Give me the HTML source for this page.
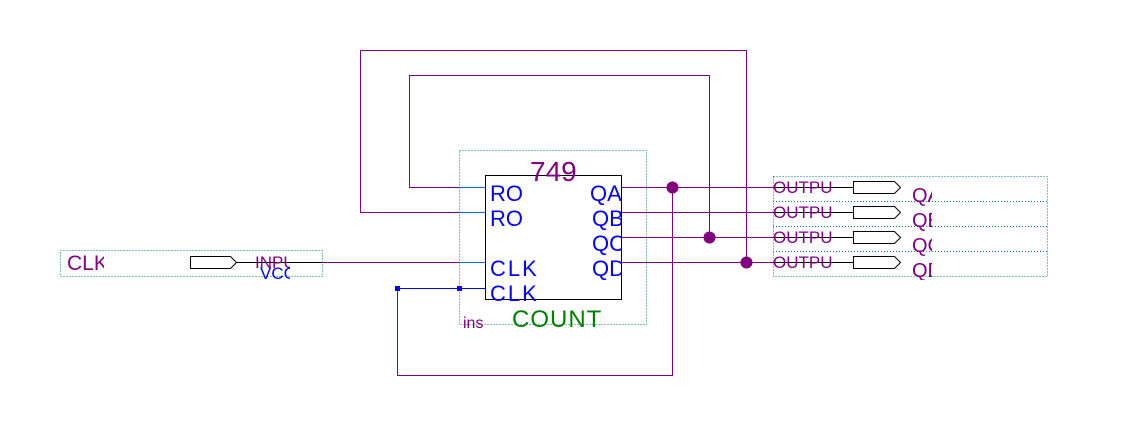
<!DOCTYPE html>
<html><head><meta charset="utf-8"><style>html,body{margin:0;padding:0;background:#fff;}svg{display:block}</style></head>
<body>
<svg width="1144" height="436" viewBox="0 0 1144 436" xmlns="http://www.w3.org/2000/svg" font-family="Liberation Sans, sans-serif">
<defs>
<clipPath id="cA"><rect x="770" y="170" width="62" height="200"/></clipPath>
<clipPath id="cQ"><rect x="905" y="170" width="27" height="110"/></clipPath>
<clipPath id="cL"><rect x="60" y="245" width="44" height="40"/></clipPath>
<clipPath id="cI"><rect x="250" y="245" width="40" height="40"/></clipPath>
</defs>
<g fill="none" stroke-width="1">
<g stroke="#008080" stroke-dasharray="1,2">
<rect x="459.5" y="150.5" width="187" height="174"/>
<rect x="773.5" y="176.5" width="274" height="100"/>
<line x1="773" y1="201.5" x2="1047" y2="201.5"/>
<line x1="773" y1="226.5" x2="1047" y2="226.5"/>
<line x1="773" y1="251.5" x2="1047" y2="251.5"/>
<rect x="60.5" y="250.5" width="262" height="26"/>
</g>
<g stroke="#800080">
<polyline points="459,187.5 409.5,187.5 409.5,75.5 709.5,75.5 709.5,237"/>
<polyline points="459,212.5 360.5,212.5 360.5,50.5 746.5,50.5 746.5,262"/>
<line x1="322" y1="262.5" x2="459" y2="262.5"/>
<polyline points="672.5,187 672.5,375.5 397.5,375.5 397.5,288"/>
<line x1="621" y1="187.5" x2="853" y2="187.5"/>
<line x1="621" y1="212.5" x2="853" y2="212.5"/>
<line x1="621" y1="237.5" x2="853" y2="237.5"/>
<line x1="621" y1="262.5" x2="853" y2="262.5"/>
</g>
<g stroke="#0070ff">
<line x1="459" y1="187.5" x2="485" y2="187.5"/>
<line x1="459" y1="212.5" x2="485" y2="212.5"/>
<line x1="459" y1="262.5" x2="485" y2="262.5"/>
</g>
<line x1="397" y1="288.5" x2="485" y2="288.5" stroke="#0000ff"/>
<rect x="485.5" y="175.5" width="136" height="124" stroke="#000"/>
<polygon points="190.5,256.5 230.5,256.5 236.5,262.5 230.5,268.5 190.5,268.5" stroke="#000"/>
<line x1="236" y1="262.5" x2="322" y2="262.5" stroke="#000"/>
<g stroke="#000">
<line x1="773" y1="187.5" x2="853" y2="187.5"/>
<line x1="773" y1="212.5" x2="853" y2="212.5"/>
<line x1="773" y1="237.5" x2="853" y2="237.5"/>
<line x1="773" y1="262.5" x2="853" y2="262.5"/>
<polygon points="853.5,181.5 894.5,181.5 900.5,187.5 894.5,193.5 853.5,193.5"/>
<polygon points="853.5,206.5 894.5,206.5 900.5,212.5 894.5,218.5 853.5,218.5"/>
<polygon points="853.5,231.5 894.5,231.5 900.5,237.5 894.5,243.5 853.5,243.5"/>
<polygon points="853.5,256.5 894.5,256.5 900.5,262.5 894.5,268.5 853.5,268.5"/>
</g>
</g>
<g fill="#800080">
<circle cx="672.5" cy="187.5" r="6"/>
<circle cx="709.5" cy="237.5" r="6"/>
<circle cx="746.5" cy="262.5" r="6"/>
</g>
<g fill="#0000ff">
<rect x="395" y="286" width="5" height="5"/>
<rect x="457" y="286" width="5" height="5"/>
</g>
<text x="530" y="181" font-size="28" fill="#800080">749</text>
<g fill="#0000ff" font-size="22">
<text x="490" y="201">RO</text>
<text x="490" y="226">RO</text>
<text x="490" y="276" letter-spacing="2">CLK</text>
<text x="490" y="301" letter-spacing="2">CLK</text>
</g>
<svg x="585" y="170" width="36" height="110" overflow="hidden">
<g fill="#0000ff" font-size="22">
<text x="5" y="31">QA</text>
<text x="7" y="56">QB</text>
<text x="7" y="81">QC</text>
<text x="7" y="106">QD</text>
</g></svg>
<text x="512" y="327" font-size="24" fill="#008000" letter-spacing="1">COUNT</text>
<text x="463" y="328" font-size="16" fill="#800080">ins</text>
<g clip-path="url(#cA)" fill="#800080" font-size="17">
<text x="773" y="193">OUTPUT</text>
<text x="773" y="218">OUTPUT</text>
<text x="773" y="243">OUTPUT</text>
<text x="773" y="268">OUTPUT</text>
</g>
<g clip-path="url(#cQ)" fill="#800080" font-size="20">
<text x="912" y="202">QA</text>
<text x="912" y="227">QB</text>
<text x="912" y="252">QC</text>
<text x="912" y="277">QD</text>
</g>
<text x="67" y="270" font-size="21" fill="#800080" clip-path="url(#cL)">CLK</text>
<text x="255" y="268" font-size="17" fill="#800080" clip-path="url(#cI)">INPUT</text>
<text x="260" y="279" font-size="17" fill="#0000ff" clip-path="url(#cI)">VCC</text>
</svg>
</body></html>
